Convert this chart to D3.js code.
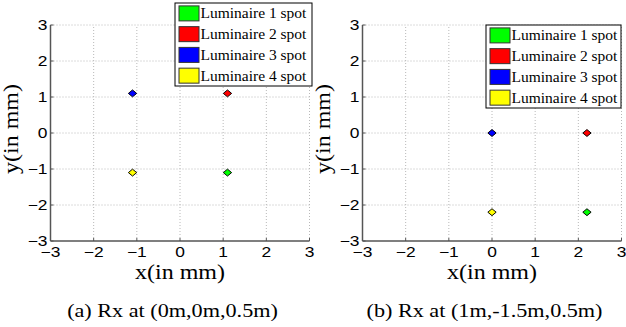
<!DOCTYPE html>
<html>
<head>
<meta charset="utf-8">
<script src="https://cdn.jsdelivr.net/npm/d3@7"></script>
<style>
  body { margin: 0; background: #fff; }
  svg { display: block; }
</style>
</head>
<body>
<div id="graf"></div>
<script>
// Datos
const ticks = [-3, -2, -1, 0, 1, 2, 3]
const luminarias = ["Luminaire 1 spot", "Luminaire 2 spot", "Luminaire 3 spot", "Luminaire 4 spot"]
const colores = ["#00ff00", "#ff0000", "#0000ff", "#ffff00"]

// (a) Rx at (0m,0m,0.5m)
const xA = [1.1, 1.1, -1.1, -1.1]
const yA = [-1.1, 1.1, 1.1, -1.1]
// (b) Rx at (1m,-1.5m,0.5m)
const xB = [2.2, 2.2, 0, 0]
const yB = [-2.2, 0, 0, -2.2]

const captions = ["(a)  Rx at (0m,0m,0.5m)", "(b)  Rx at (1m,-1.5m,0.5m)"]

// Dimensiones
const anchoTotal = 626
const altoTotal = 327
const stretch = 1.2  // la imagen original está estirada en horizontal

const svg = d3.select("#graf").append("svg")
    .attr("width", anchoTotal)
    .attr("height", altoTotal)

const serif = "'Liberation Serif', 'Times New Roman', serif"
const sans = "'Liberation Sans', Arial, sans-serif"

const stretchedText = (parent, x, y, txt, size, family, anchor, rot = 0, sx = stretch) =>
    parent.append("text")
        .attr("transform", `translate(${x},${y}) rotate(${rot}) scale(${sx},1)`)
        .attr("text-anchor", anchor)
        .style("font-family", family)
        .style("font-size", size + "px")
        .attr("fill", "#000")
        .text(txt)

const drawPanel = (left, xs, ys, leg, caption) => {
    const x = d3.scaleLinear().domain([-3, 3]).range([left, left + 259])
    const y = d3.scaleLinear().domain([-3, 3]).range([241, 25])
    const g = svg.append("g")

    // grilla punteada
    g.selectAll(".gx").data(ticks.slice(1)).join("line")
        .attr("x1", d => x(d)).attr("x2", d => x(d))
        .attr("y1", y(-3)).attr("y2", y(3))
        .attr("stroke", "#b8b8b8").attr("stroke-width", 1)
        .attr("stroke-dasharray", "1,2")
    g.selectAll(".gy").data(ticks.slice(1)).join("line")
        .attr("class", "gy")
        .attr("y1", d => y(d)).attr("y2", d => y(d))
        .attr("x1", x(-3)).attr("x2", x(3))
        .attr("stroke", "#b8b8b8").attr("stroke-width", 1)
        .attr("stroke-dasharray", "1,2")

    // ejes
    const ax = g.append("g")
    ax.append("line").attr("x1", x(-3)).attr("x2", x(3)).attr("y1", y(-3)).attr("y2", y(-3))
        .attr("stroke", "#555").attr("stroke-width", 1.5)
    ax.append("line").attr("x1", x(-3)).attr("x2", x(-3)).attr("y1", y(-3)).attr("y2", y(3))
        .attr("stroke", "#555").attr("stroke-width", 1.5)
    ticks.forEach(t => {
        ax.append("line").attr("x1", x(t)).attr("x2", x(t)).attr("y1", y(-3)).attr("y2", y(-3) - 3)
            .attr("stroke", "#555")
        ax.append("line").attr("y1", y(t)).attr("y2", y(t)).attr("x1", x(-3)).attr("x2", x(-3) + 3)
            .attr("stroke", "#555")
        stretchedText(ax, x(t), 257, t < 0 ? "\u2212" + Math.abs(t) : t, 14.5, sans, "middle")
        stretchedText(ax, x(-3) - 3, y(t) + 5, t < 0 ? "\u2212" + Math.abs(t) : t, 14.5, sans, "end")
    })

    // titulos de ejes
    stretchedText(g, x(0), 279, "x(in mm)", 20, serif, "middle")
    stretchedText(g, left - 33, 129, "y(in mm)", 20, serif, "middle", -90)

    // puntos
    g.selectAll(".pt").data(xs).join("path")
        .attr("transform", (d, i) => `translate(${x(d)},${y(ys[i])}) scale(${stretch},1) rotate(45)`)
        .attr("d", d3.symbol().type(d3.symbolSquare).size(24))
        .attr("fill", (d, i) => colores[i])
        .attr("stroke", "#000").attr("stroke-width", 0.8)

    // leyenda
    const lg = g.append("g")
    lg.append("rect")
        .attr("x", leg.x).attr("y", leg.y).attr("width", leg.w).attr("height", 83)
        .attr("fill", "#fff").attr("stroke", "#000").attr("stroke-width", 1)
    luminarias.forEach((l, i) => {
        const cy = leg.y + 10.4 + i * 20.75
        lg.append("rect")
            .attr("x", leg.x + 4).attr("y", cy - 7.5).attr("width", 20).attr("height", 15)
            .attr("fill", colores[i]).attr("stroke", "#333").attr("stroke-width", 1)
        stretchedText(lg, leg.x + 25.5, cy + 5, l, 14.5, serif, "start", 0, 1.07)
    })

    // pie
    stretchedText(g, left + 122, 317, caption, 18.5, serif, "middle")
}

drawPanel(50.5, xA, yA, {x: 175, y: 3, w: 137}, captions[0])
drawPanel(362.5, xB, yB, {x: 486, y: 25, w: 135}, captions[1])
</script>
</body>
</html>
